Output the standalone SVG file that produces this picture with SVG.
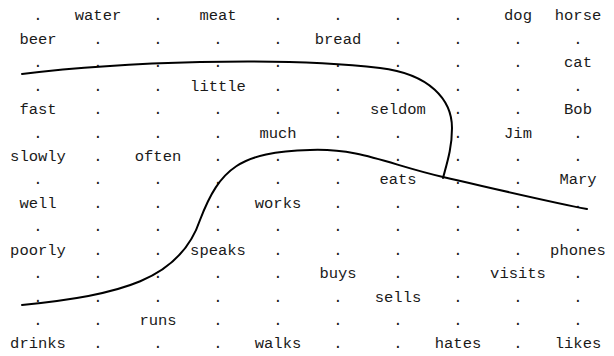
<svg xmlns="http://www.w3.org/2000/svg" width="614" height="356" viewBox="0 0 614 356">
<style>
text{font-family:"Courier New","Liberation Mono",monospace;font-size:15.5px;fill:#1a1a1a;text-anchor:middle}
.c{fill:none;stroke:#000;stroke-width:2;stroke-linecap:round}
</style>
<rect width="614" height="356" fill="#fff"/>
<g id="grid-dots">
<text x="38" y="20.4">.</text><text x="158" y="20.4">.</text><text x="278" y="20.4">.</text><text x="338" y="20.4">.</text><text x="398" y="20.4">.</text><text x="458" y="20.4">.</text>
<text x="98" y="43.8">.</text><text x="158" y="43.8">.</text><text x="218" y="43.8">.</text><text x="278" y="43.8">.</text><text x="398" y="43.8">.</text><text x="458" y="43.8">.</text><text x="518" y="43.8">.</text><text x="578" y="43.8">.</text>
<text x="38" y="67.3">.</text><text x="98" y="67.3">.</text><text x="158" y="67.3">.</text><text x="218" y="67.3">.</text><text x="278" y="67.3">.</text><text x="338" y="67.3">.</text><text x="398" y="67.3">.</text><text x="458" y="67.3">.</text><text x="518" y="67.3">.</text>
<text x="38" y="90.7">.</text><text x="98" y="90.7">.</text><text x="158" y="90.7">.</text><text x="278" y="90.7">.</text><text x="338" y="90.7">.</text><text x="398" y="90.7">.</text><text x="458" y="90.7">.</text><text x="518" y="90.7">.</text><text x="578" y="90.7">.</text>
<text x="98" y="114.1">.</text><text x="158" y="114.1">.</text><text x="218" y="114.1">.</text><text x="278" y="114.1">.</text><text x="338" y="114.1">.</text><text x="458" y="114.1">.</text><text x="518" y="114.1">.</text>
<text x="38" y="137.6">.</text><text x="98" y="137.6">.</text><text x="158" y="137.6">.</text><text x="218" y="137.6">.</text><text x="338" y="137.6">.</text><text x="398" y="137.6">.</text><text x="458" y="137.6">.</text><text x="578" y="137.6">.</text>
<text x="98" y="161">.</text><text x="218" y="161">.</text><text x="278" y="161">.</text><text x="338" y="161">.</text><text x="398" y="161">.</text><text x="458" y="161">.</text><text x="518" y="161">.</text><text x="578" y="161">.</text>
<text x="38" y="184.4">.</text><text x="98" y="184.4">.</text><text x="158" y="184.4">.</text><text x="218" y="184.4">.</text><text x="278" y="184.4">.</text><text x="338" y="184.4">.</text><text x="458" y="184.4">.</text><text x="518" y="184.4">.</text>
<text x="98" y="207.8">.</text><text x="158" y="207.8">.</text><text x="218" y="207.8">.</text><text x="338" y="207.8">.</text><text x="398" y="207.8">.</text><text x="458" y="207.8">.</text><text x="518" y="207.8">.</text><text x="578" y="207.8">.</text>
<text x="38" y="231.3">.</text><text x="98" y="231.3">.</text><text x="158" y="231.3">.</text><text x="218" y="231.3">.</text><text x="278" y="231.3">.</text><text x="338" y="231.3">.</text><text x="398" y="231.3">.</text><text x="458" y="231.3">.</text><text x="518" y="231.3">.</text><text x="578" y="231.3">.</text>
<text x="98" y="254.7">.</text><text x="158" y="254.7">.</text><text x="278" y="254.7">.</text><text x="338" y="254.7">.</text><text x="398" y="254.7">.</text><text x="458" y="254.7">.</text><text x="518" y="254.7">.</text>
<text x="38" y="278.1">.</text><text x="98" y="278.1">.</text><text x="158" y="278.1">.</text><text x="218" y="278.1">.</text><text x="278" y="278.1">.</text><text x="398" y="278.1">.</text><text x="458" y="278.1">.</text><text x="578" y="278.1">.</text>
<text x="38" y="301.6">.</text><text x="98" y="301.6">.</text><text x="158" y="301.6">.</text><text x="218" y="301.6">.</text><text x="278" y="301.6">.</text><text x="338" y="301.6">.</text><text x="458" y="301.6">.</text><text x="518" y="301.6">.</text><text x="578" y="301.6">.</text>
<text x="38" y="325">.</text><text x="98" y="325">.</text><text x="218" y="325">.</text><text x="278" y="325">.</text><text x="338" y="325">.</text><text x="398" y="325">.</text><text x="458" y="325">.</text><text x="518" y="325">.</text><text x="578" y="325">.</text>
<text x="98" y="348.4">.</text><text x="158" y="348.4">.</text><text x="218" y="348.4">.</text><text x="338" y="348.4">.</text><text x="398" y="348.4">.</text><text x="518" y="348.4">.</text>
</g>
<g id="water"><text x="98" y="20.4">water</text></g>
<g id="meat"><text x="218" y="20.4">meat</text></g>
<g id="dog"><text x="518" y="20.4">dog</text></g>
<g id="horse"><text x="578" y="20.4">horse</text></g>
<g id="beer"><text x="38" y="43.8">beer</text></g>
<g id="bread"><text x="338" y="43.8">bread</text></g>
<g id="cat"><text x="578" y="67.3">cat</text></g>
<g id="little"><text x="218" y="90.7">little</text></g>
<g id="fast"><text x="38" y="114.1">fast</text></g>
<g id="seldom"><text x="398" y="114.1">seldom</text></g>
<g id="Bob"><text x="578" y="114.1">Bob</text></g>
<g id="much"><text x="278" y="137.6">much</text></g>
<g id="Jim"><text x="518" y="137.6">Jim</text></g>
<g id="slowly"><text x="38" y="161">slowly</text></g>
<g id="often"><text x="158" y="161">often</text></g>
<g id="eats"><text x="398" y="184.4">eats</text></g>
<g id="Mary"><text x="578" y="184.4">Mary</text></g>
<g id="well"><text x="38" y="207.8">well</text></g>
<g id="works"><text x="278" y="207.8">works</text></g>
<g id="poorly"><text x="38" y="254.7">poorly</text></g>
<g id="speaks"><text x="218" y="254.7">speaks</text></g>
<g id="phones"><text x="578" y="254.7">phones</text></g>
<g id="buys"><text x="338" y="278.1">buys</text></g>
<g id="visits"><text x="518" y="278.1">visits</text></g>
<g id="sells"><text x="398" y="301.6">sells</text></g>
<g id="runs"><text x="158" y="325">runs</text></g>
<g id="drinks"><text x="38" y="348.4">drinks</text></g>
<g id="walks"><text x="278" y="348.4">walks</text></g>
<g id="hates"><text x="458" y="348.4">hates</text></g>
<g id="likes"><text x="578" y="348.4">likes</text></g>
<g id="connectors">
<path class="c" d="M22,74 C120,62 280,56 380,68 C430,74 452,100 452,128 C452,148 447,163 443,178"/>
<path class="c" d="M22,305 C120,295 180,280 200,220 C220,168 240,152 310,150 C360,148 390,165 443,177 C500,190 550,202 587,209"/>
</g>
</svg>
